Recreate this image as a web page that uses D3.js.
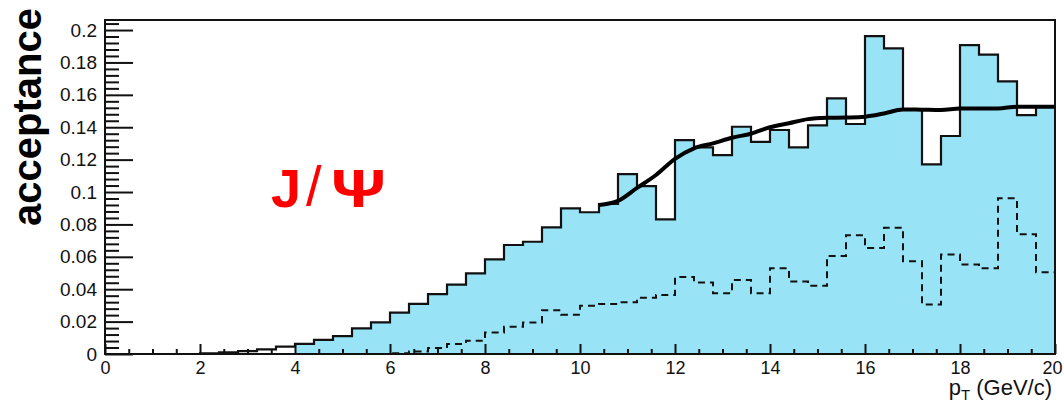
<!DOCTYPE html>
<html>
<head>
<meta charset="utf-8">
<script src="https://cdn.jsdelivr.net/npm/d3@7"></script>
<style>
  html, body { margin: 0; padding: 0; background: #fff; }
  svg { display: block; font-family: "Liberation Sans", Arial, Helvetica, sans-serif; }
</style>
</head>
<body>
<svg id="chart" width="1064" height="403"></svg>
<script>
// Lower edges of the pT bins (GeV/c), bin width 0.4
const binLow = [
  0.0, 0.4, 0.8, 1.2, 1.6, 2.0, 2.4, 2.8, 3.2, 3.6,
  4.0, 4.4, 4.8, 5.2, 5.6, 6.0, 6.4, 6.8, 7.2, 7.6,
  8.0, 8.4, 8.8, 9.2, 9.6, 10.0, 10.4, 10.8, 11.2, 11.6,
  12.0, 12.4, 12.8, 13.2, 13.6, 14.0, 14.4, 14.8, 15.2, 15.6,
  16.0, 16.4, 16.8, 17.2, 17.6, 18.0, 18.4, 18.8, 19.2, 19.6
];
const binWidth = 0.4;

// J/psi acceptance per bin (solid histogram)
const acceptance = [
  0, 0, 0, 0, 0, 0.0004, 0.001, 0.0018, 0.0028, 0.0045,
  0.0062, 0.0087, 0.011, 0.0158, 0.0195, 0.0255, 0.0309, 0.037, 0.0428, 0.0498,
  0.0584, 0.0673, 0.0693, 0.0782, 0.0899, 0.0875, 0.0926, 0.111, 0.1037, 0.0831,
  0.1321, 0.1276, 0.1228, 0.1403, 0.1309, 0.1383, 0.1276, 0.1412, 0.1578, 0.142,
  0.1963, 0.1887, 0.151, 0.1171, 0.1346, 0.1907, 0.1848, 0.1683, 0.1475, 0.1527
];

// Second acceptance histogram (dashed)
const acceptanceDashed = [
  0, 0, 0, 0, 0, 0, 0, 0, 0, 0,
  0, 0, 0, 0, 0, 0.0005, 0.0015, 0.0037, 0.0062, 0.0082,
  0.0132, 0.0169, 0.0195, 0.027, 0.0243, 0.0298, 0.0309, 0.0319, 0.0348, 0.0364,
  0.0475, 0.0442, 0.0375, 0.0457, 0.0375, 0.0529, 0.0447, 0.0422, 0.0605, 0.0733,
  0.0654, 0.078, 0.0572, 0.0305, 0.0615, 0.0553, 0.0529, 0.0961, 0.0739, 0.0504
];

// Smooth fit of the acceptance at high pT
const fitPt = [
  10.4, 10.8, 11.2, 11.6, 12.0, 12.4, 12.8, 13.2, 13.6, 14.0,
  14.4, 14.8, 15.2, 15.6, 16.0, 16.4, 16.8, 17.2, 17.6, 18.0,
  18.4, 18.8, 19.2, 19.6, 20.0
];
const fitValue = [
  0.092, 0.0945, 0.1025, 0.1105, 0.1205, 0.127, 0.130, 0.1335, 0.136, 0.140,
  0.1425, 0.145, 0.1458, 0.146, 0.1465, 0.1485, 0.151, 0.1508, 0.1506, 0.1516,
  0.1516, 0.1516, 0.1527, 0.1527, 0.1527
];

// The shaded region starts at this pT
const fillFrom = 4.0;

// Axis ticks
const xMajorTicks = [0, 2, 4, 6, 8, 10, 12, 14, 16, 18, 20];
const yMajorTicks = [0, 0.02, 0.04, 0.06, 0.08, 0.1, 0.12, 0.14, 0.16, 0.18, 0.2];
const xDomain = [0, 20];
const yDomain = [0, 0.2062];

const svg = d3.select("#chart");
const plot = { left: 105, right: 1055, top: 20, bottom: 354 };

const x = d3.scaleLinear().domain(xDomain).range([plot.left, plot.right]);
const y = d3.scaleLinear().domain(yDomain).range([plot.bottom, plot.top]);

// Step points for a histogram: one point per bin start plus the last edge
function stepPoints(values) {
  const pts = binLow.map((lo, i) => [lo, values[i]]);
  pts.push([binLow[binLow.length - 1] + binWidth, values[values.length - 1]]);
  return pts;
}

const stepLine = d3.line()
  .x(d => x(d[0])).y(d => y(d[1]))
  .curve(d3.curveStepAfter);

// Shaded area under the solid histogram
const fillPts = stepPoints(acceptance).filter(d => d[0] >= fillFrom - 1e-9);
svg.append("path")
  .attr("d", d3.area()
    .x(d => x(d[0])).y0(y(0)).y1(d => y(d[1]))
    .curve(d3.curveStepAfter)(fillPts))
  .attr("fill", "#98e4f6")
  .attr("stroke", "none");

// Dashed histogram
svg.append("path")
  .attr("d", stepLine(stepPoints(acceptanceDashed)))
  .attr("fill", "none")
  .attr("stroke", "#111")
  .attr("stroke-width", 2)
  .attr("stroke-dasharray", "7,5");

// Solid histogram outline
svg.append("path")
  .attr("d", stepLine(stepPoints(acceptance)))
  .attr("fill", "none")
  .attr("stroke", "#111")
  .attr("stroke-width", 2.2);

// Fit curve
svg.append("path")
  .attr("d", d3.line()
    .x(d => x(d)).y((d, i) => y(fitValue[i]))
    .curve(d3.curveMonotoneX)(fitPt))
  .attr("fill", "none")
  .attr("stroke", "#000")
  .attr("stroke-width", 4)
  .attr("stroke-linejoin", "round");

// Axes with inward ticks
const xMinorTicks = d3.range(0, 20.001, 0.5).filter(v => !xMajorTicks.includes(v));
const yMinorTicks = d3.range(0, 0.2061, 0.004).filter(v =>
  !yMajorTicks.some(t => Math.abs(t - v) < 1e-6));

const fmt = d => d === 0 ? "0" : String(+d.toFixed(2));
const fontFamily = "'Liberation Sans', Arial, Helvetica, sans-serif";

const gx = svg.append("g").attr("transform", `translate(0,${plot.bottom})`);
gx.append("g")
  .call(d3.axisBottom(x).tickValues(xMinorTicks).tickSize(-5).tickFormat(""))
  .call(g => g.select(".domain").remove());
gx.append("g")
  .call(d3.axisBottom(x).tickValues(xMajorTicks).tickSize(-10).tickPadding(7).tickFormat(d3.format("d")))
  .call(g => g.select(".domain").remove())
  .call(g => g.selectAll("text").attr("font-size", 18).attr("fill", "#111")
    .attr("font-family", fontFamily)
    .attr("dx", d => d === xDomain[1] ? -3 : 0));

const gy = svg.append("g").attr("transform", `translate(${plot.left},0)`);
gy.append("g")
  .call(d3.axisLeft(y).tickValues(yMinorTicks).tickSize(-14).tickFormat(""))
  .call(g => g.select(".domain").remove());
gy.append("g")
  .call(d3.axisLeft(y).tickValues(yMajorTicks).tickSize(-28).tickPadding(8).tickFormat(fmt))
  .call(g => g.select(".domain").remove())
  .call(g => g.selectAll("text").attr("font-size", 19).attr("fill", "#111")
    .attr("font-family", fontFamily));

svg.selectAll(".tick line").attr("stroke", "#111").attr("stroke-width", 2);

// Frame
svg.append("rect")
  .attr("x", plot.left).attr("y", plot.top)
  .attr("width", plot.right - plot.left).attr("height", plot.bottom - plot.top)
  .attr("fill", "none").attr("stroke", "#111").attr("stroke-width", 2);

// Axis titles
svg.append("text")
  .attr("transform", "translate(41,117) rotate(-90)")
  .attr("text-anchor", "middle")
  .attr("font-size", 40).attr("font-weight", "bold").attr("fill", "#000")
  .text("acceptance");

const xt = svg.append("text")
  .attr("x", 1052).attr("y", 395)
  .attr("text-anchor", "end")
  .attr("font-size", 22).attr("fill", "#111");
xt.append("tspan").text("p");
xt.append("tspan").attr("font-size", 15).attr("dy", 5).text("T");
xt.append("tspan").attr("dy", -5).text(" (GeV/c)");

// Particle label
const red = "#ff0000";
svg.append("text").attr("x", 271).attr("y", 207)
  .attr("font-size", 54).attr("font-weight", "bold").attr("fill", red).text("J");
svg.append("text").attr("x", 306).attr("y", 205)
  .attr("font-size", 56).attr("fill", red).text("/");
svg.append("text").attr("x", 331).attr("y", 207)
  .attr("font-size", 54).attr("font-weight", "bold").attr("fill", red)
  .attr("textLength", 55).attr("lengthAdjust", "spacingAndGlyphs").text("Ψ");
</script>
</body>
</html>
